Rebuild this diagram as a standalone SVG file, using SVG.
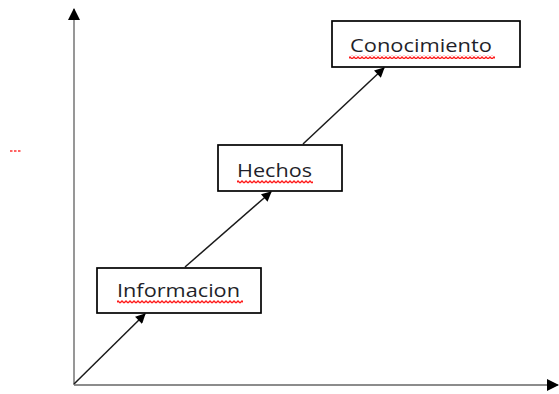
<svg xmlns="http://www.w3.org/2000/svg" width="559" height="394" viewBox="0 0 559 394">
  <style>
    .box { fill: #ffffff; stroke: #000000; stroke-width: 1.7; }
    .lbl { font-family: "Open Sans", "Liberation Sans", sans-serif; font-size: 19px; fill: #1f1f2a; }
    .axis { stroke: #8c8c8c; stroke-width: 1.8; fill: none; }
    .conn { stroke: #1a1a1a; stroke-width: 1.5; fill: none; }
    .squiggle { fill: url(#wave); }
  </style>
  <defs>
    <marker id="axisHead" viewBox="0 0 12 12" refX="11" refY="6" markerWidth="12" markerHeight="12" markerUnits="userSpaceOnUse" orient="auto">
      <path d="M0,0 L12,6 L0,12 Z" fill="#000000"/>
    </marker>
    <marker id="arrowHead" viewBox="0 0 10 10" refX="9" refY="5" markerWidth="11" markerHeight="10" markerUnits="userSpaceOnUse" orient="auto">
      <path d="M0,0 L10,5 L0,10 Z" fill="#000000"/>
    </marker>
    <pattern id="wave" x="0" y="0" width="4" height="4" patternUnits="userSpaceOnUse">
      <path d="M0,3 L2,1 L4,3" stroke="#ff1a1a" stroke-width="1.3" fill="none"/>
    </pattern>
  </defs>

  <g id="axes">
    <line class="axis" x1="74" y1="385" x2="74" y2="9" marker-end="url(#axisHead)"/>
    <line class="axis" x1="74" y1="385" x2="558" y2="385" marker-end="url(#axisHead)"/>
  </g>

  <g id="connectors">
    <line class="conn" x1="74" y1="384" x2="145" y2="314" marker-end="url(#arrowHead)"/>
    <line class="conn" x1="185" y1="267" x2="271" y2="192" marker-end="url(#arrowHead)"/>
    <line class="conn" x1="303" y1="144" x2="384" y2="68" marker-end="url(#arrowHead)"/>
  </g>

  <g id="node-informacion">
    <rect class="box" x="97" y="268" width="164" height="45"/>
    <text class="lbl" x="117" y="297" textLength="123" lengthAdjust="spacingAndGlyphs">Informacion</text>
    <rect class="squiggle" x="117" y="300" width="126" height="4"/>
  </g>

  <g id="node-hechos">
    <rect class="box" x="218" y="145" width="124" height="46"/>
    <text class="lbl" x="237" y="177" textLength="75" lengthAdjust="spacingAndGlyphs">Hechos</text>
    <rect class="squiggle" x="237" y="180" width="76" height="4"/>
  </g>

  <g id="node-conocimiento">
    <rect class="box" x="332" y="21" width="188" height="46"/>
    <text class="lbl" x="350" y="52" textLength="142" lengthAdjust="spacingAndGlyphs">Conocimiento</text>
    <rect class="squiggle" x="349" y="55" width="146" height="4"/>
  </g>

  <g id="stray-mark">
    <line x1="10" y1="151" x2="21" y2="151" stroke="#ff3030" stroke-width="1.6" stroke-dasharray="2.5,1.5"/>
  </g>
</svg>
